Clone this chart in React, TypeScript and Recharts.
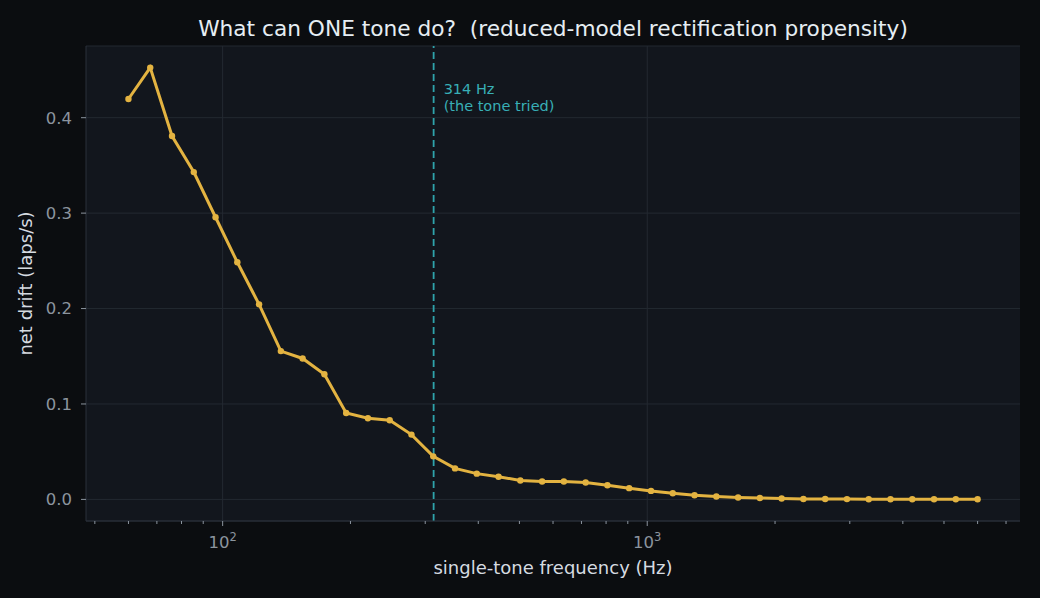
import {
  CartesianGrid,
  Line,
  LineChart,
  ReferenceLine,
  XAxis,
  YAxis,
} from "recharts";

// single-tone sweep, log-spaced 60 Hz .. 6 kHz
const freqs = [
  60, 67.52, 75.99, 85.51, 96.22, 108.28, 121.85, 137.12, 154.3, 173.64,
  195.4, 219.88, 247.44, 278.44, 313.34, 352.61, 396.8, 446.53, 502.49, 565.46,
  636.33, 716.08, 805.81, 906.8, 1020.75, 1148.68, 1292.64, 1454.64, 1636.93, 1842.1,
  2072.96, 2332.75, 2625.11, 2954.1, 3324.33, 3740.96, 4209.8, 4737.39, 5331.12, 6000,
];
const netDrift = [
  0.4196, 0.4525, 0.3808, 0.343, 0.2957, 0.2485, 0.2044, 0.1554, 0.1477, 0.1312,
  0.0906, 0.085, 0.0829, 0.0679, 0.0451, 0.0325, 0.027, 0.0238, 0.0198, 0.0188,
  0.0187, 0.0177, 0.0148, 0.0118, 0.0089, 0.0065, 0.0044, 0.003, 0.002, 0.0014,
  0.001, 0.0005, 0.0004, 0.0003, 0.0002, 0.0002, 0.0001, 0.0001, 0.0001, 0.0001,
];

const majorTicks = [100, 1000];
const majorTickExp = ["2", "3"];
const minorTicks = [50, 60, 70, 80, 90, 200, 300, 400, 500, 600, 700, 800, 900, 2000, 3000, 4000, 5000, 6000, 7000];
const yTicks = [0, 0.1, 0.2, 0.3, 0.4];
const toneTried = 314;
const toneLabel = ["314 Hz", "(the tone tried)"];

const data = freqs.map((f, i) => ({ f, drift: netDrift[i] }));

const FONT = "'DejaVu Sans', sans-serif";
const PAGE_BG = "#0b0d10";
const PLOT_BG = "#12161d";
const GRID = "#232931";
const SPINE = "#2b313a";
const TICK = "#8b949e";
const GOLD = "#e3b341";
const TEAL = "#2fa3ab";
const TEAL_TEXT = "#38afb6";

const X_DOMAIN: [number, number] = [47.66, 7551];
const Y_DOMAIN: [number, number] = [-0.02263, 0.47513];

function FreqTick(props: any) {
  const { x, y, payload } = props;
  const idx = majorTicks.indexOf(payload.value);
  const major = idx >= 0;
  return (
    <g>
      <line x1={x} x2={x} y1={y} y2={y + (major ? 5 : 3)} stroke={TICK} strokeWidth={1} />
      {major && (
        <text x={x} y={y + 27} textAnchor="middle" fill={TICK} fontSize={16.5} fontFamily={FONT}>
          <tspan>10</tspan>
          <tspan fontSize={11.5} dy={-7}>{majorTickExp[idx]}</tspan>
        </text>
      )}
    </g>
  );
}

export default function App() {
  return (
    <div style={{ position: "fixed", left: 0, top: 0, width: 1040, height: 598, background: PAGE_BG }}>
      <LineChart width={1040} height={598} data={data} margin={{ top: 46, right: 20, left: 0, bottom: 0 }}>
        <CartesianGrid vertical={false} stroke={GRID} fill={PLOT_BG} strokeWidth={1} />
        {majorTicks.map((t) => (
          <ReferenceLine key={t} x={t} stroke={GRID} strokeWidth={1} />
        ))}
        <XAxis
          dataKey="f"
          type="number"
          scale="log"
          domain={X_DOMAIN}
          allowDataOverflow
          ticks={[...minorTicks, ...majorTicks]}
          interval={0}
          height={77}
          tickSize={0}
          tickMargin={0}
          tickLine={false}
          axisLine={{ stroke: SPINE }}
          tick={<FreqTick />}
          label={(p: any) => {
            const vb = p.viewBox;
            return (
              <text x={vb.x + vb.width / 2} y={vb.y + 53} textAnchor="middle" fill="#d6dbe1" fontSize={18} fontFamily={FONT}>
                single-tone frequency (Hz)
              </text>
            );
          }}
        />
        <XAxis xAxisId="top" orientation="top" type="number" scale="log" domain={X_DOMAIN} allowDataOverflow height={0} tick={false} tickLine={false} axisLine={{ stroke: SPINE }} />
        <YAxis
          type="number"
          domain={Y_DOMAIN}
          allowDataOverflow
          ticks={yTicks}
          width={86}
          tickSize={5}
          tickMargin={9}
          tickLine={{ stroke: TICK }}
          axisLine={{ stroke: SPINE }}
          tickFormatter={(v: number) => v.toFixed(1)}
          tick={{ fill: TICK, fontSize: 16.5, fontFamily: FONT }}
          label={(p: any) => {
            const vb = p.viewBox;
            const cx = vb.x + 32;
            const cy = vb.y + vb.height / 2;
            return (
              <text x={cx} y={cy} transform={`rotate(-90, ${cx}, ${cy})`} textAnchor="middle" fill="#d6dbe1" fontSize={18} fontFamily={FONT}>
                net drift (laps/s)
              </text>
            );
          }}
        />
        <YAxis yAxisId="right" orientation="right" type="number" domain={Y_DOMAIN} allowDataOverflow width={0} tick={false} tickLine={false} axisLine={{ stroke: SPINE }} />
        <Line
          dataKey="drift"
          stroke={GOLD}
          strokeWidth={3}
          dot={{ r: 3.2, fill: GOLD, stroke: GOLD, strokeWidth: 0 }}
          activeDot={false}
          isAnimationActive={false}
        />
        <ReferenceLine
          x={toneTried}
          stroke={TEAL}
          strokeWidth={1.8}
          strokeDasharray="7 4"
          label={(p: any) => {
            const vb = p.viewBox;
            return (
              <text x={vb.x + 10} y={vb.y + 48} fill={TEAL_TEXT} fontSize={14.5} fontFamily={FONT}>
                <tspan x={vb.x + 10}>{toneLabel[0]}</tspan>
                <tspan x={vb.x + 10} dy={16.5}>{toneLabel[1]}</tspan>
              </text>
            );
          }}
        />
      </LineChart>
      <svg width={1040} height={60} style={{ position: "absolute", left: 0, top: 0, pointerEvents: "none" }}>
        <text x={553} y={36} textAnchor="middle" fill="#e6edf3" fontSize={21.7} fontFamily={FONT} style={{ whiteSpace: "pre" }}>
          {"What can ONE tone do?  (reduced-model rectification propensity)"}
        </text>
      </svg>
    </div>
  );
}
